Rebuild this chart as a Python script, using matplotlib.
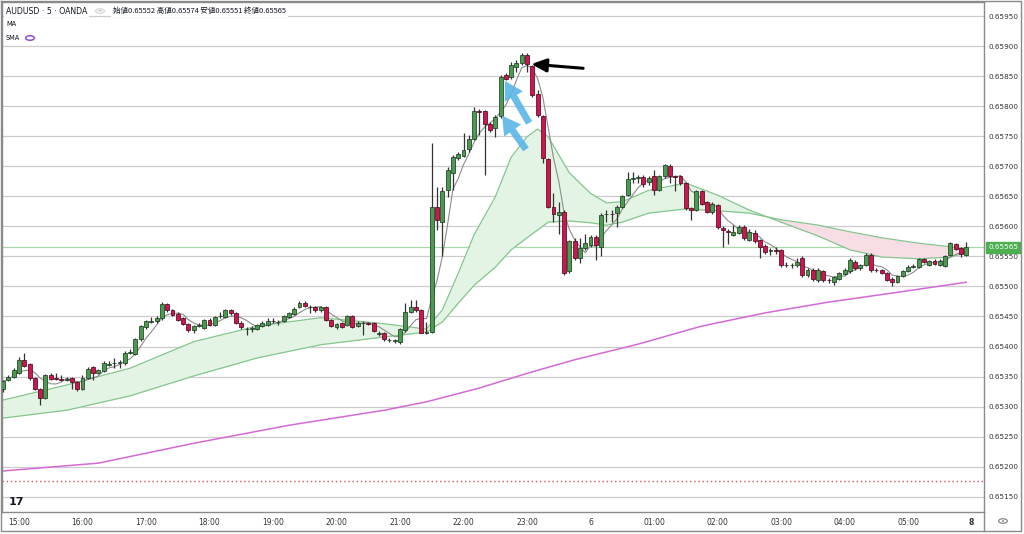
import matplotlib
matplotlib.use("Agg")
import matplotlib.pyplot as plt
import numpy as np
import pandas as pd
from matplotlib.patches import Rectangle
from matplotlib.lines import Line2D

# ---------------- data (AUDUSD 5 min, OANDA) ----------------
opens = [0.65329,0.65344,0.65350,0.65356,0.65378,0.65371,0.65347,0.65329,0.65315,0.65353,
         0.65347,0.65346,0.65345,0.65347,0.65341,0.65329,0.65348,0.65366,0.65356,0.65359,
         0.65370,0.65372,0.65373,0.65372,0.65390,0.65388,0.65412,0.65432,0.65441,0.65442,
         0.65447,0.65471,0.65461,0.65454,0.65447,0.65437,0.65427,0.65434,0.65431,0.65444,
         0.65436,0.65451,0.65449,0.65461,0.65455,0.65440,0.65429,0.65430,0.65429,0.65434,
         0.65436,0.65443,0.65441,0.65443,0.65449,0.65454,0.65466,0.65473,0.65466,0.65465,
         0.65460,0.65465,0.65444,0.65432,0.65439,0.65436,0.65450,0.65434,0.65439,0.65439,
         0.65439,0.65422,0.65422,0.65411,0.65410,0.65407,0.65428,0.65458,0.65466,0.65460,
         0.65423,0.65425,0.65632,0.65608,0.65661,0.65689,0.65714,0.65717,0.65728,0.65746,
         0.65792,0.65792,0.65771,0.65763,0.65784,0.65852,0.65848,0.65865,0.65871,0.65885,
         0.65866,0.65821,0.65784,0.65712,0.65633,0.65619,0.65624,0.65525,0.65575,0.65547,
         0.65564,0.65569,0.65583,0.65565,0.65620,0.65621,0.65622,0.65633,0.65652,0.65679,
         0.65681,0.65682,0.65673,0.65683,0.65661,0.65684,0.65700,0.65683,0.65684,0.65672,
         0.65630,0.65627,0.65659,0.65641,0.65624,0.65635,0.65597,0.65592,0.65586,0.65589,
         0.65599,0.65577,0.65589,0.65577,0.65567,0.65559,0.65560,0.65561,0.65536,0.65535,
         0.65536,0.65547,0.65519,0.65527,0.65511,0.65526,0.65511,0.65508,0.65513,0.65521,
         0.65525,0.65541,0.65530,0.65536,0.65552,0.65528,0.65527,0.65522,0.65513,0.65508,
         0.65517,0.65526,0.65533,0.65532,0.65545,0.65536,0.65543,0.65536,0.65534,0.65553,
         0.65571,0.65564,0.65552]
highs = [0.65345,0.65352,0.65364,0.65383,0.65389,0.65373,0.65349,0.65331,0.65355,0.65356,
         0.65356,0.65352,0.65349,0.65349,0.65342,0.65352,0.65366,0.65368,0.65363,0.65376,
         0.65376,0.65381,0.65378,0.65392,0.65396,0.65414,0.65436,0.65445,0.65449,0.65450,
         0.65474,0.65473,0.65463,0.65457,0.65449,0.65439,0.65436,0.65440,0.65446,0.65447,
         0.65451,0.65458,0.65463,0.65463,0.65457,0.65442,0.65433,0.65434,0.65438,0.65442,
         0.65447,0.65447,0.65445,0.65452,0.65458,0.65465,0.65475,0.65475,0.65469,0.65467,
         0.65468,0.65467,0.65446,0.65439,0.65441,0.65452,0.65452,0.65442,0.65442,0.65441,
         0.65441,0.65426,0.65424,0.65414,0.65413,0.65431,0.65473,0.65477,0.65477,0.65462,
         0.65441,0.65739,0.65666,0.65666,0.65699,0.65719,0.65724,0.65755,0.65752,0.65799,
         0.65796,0.65794,0.65773,0.65785,0.65852,0.65855,0.65874,0.65877,0.65888,0.65888,
         0.65868,0.65827,0.65786,0.65714,0.65655,0.65640,0.65627,0.65578,0.65580,0.65580,
         0.65588,0.65586,0.65586,0.65622,0.65627,0.65627,0.65635,0.65652,0.65691,0.65691,
         0.65685,0.65685,0.65683,0.65694,0.65685,0.65704,0.65703,0.65685,0.65686,0.65674,
         0.65632,0.65661,0.65661,0.65643,0.65640,0.65637,0.65601,0.65595,0.65602,0.65602,
         0.65602,0.65595,0.65594,0.65579,0.65570,0.65564,0.65566,0.65563,0.65540,0.65539,
         0.65547,0.65550,0.65530,0.65530,0.65531,0.65528,0.65514,0.65518,0.65524,0.65530,
         0.65548,0.65544,0.65538,0.65555,0.65555,0.65531,0.65529,0.65524,0.65515,0.65519,
         0.65528,0.65535,0.65537,0.65547,0.65547,0.65544,0.65545,0.65545,0.65553,0.65574,
         0.65573,0.65566,0.65574]
lows = [0.65325,0.65342,0.65348,0.65354,0.65366,0.65345,0.65327,0.65303,0.65313,0.65344,
        0.65344,0.65343,0.65343,0.65330,0.65326,0.65327,0.65346,0.65345,0.65354,0.65357,
        0.65368,0.65365,0.65365,0.65370,0.65387,0.65386,0.65410,0.65430,0.65439,0.65440,
        0.65445,0.65458,0.65451,0.65443,0.65436,0.65424,0.65422,0.65432,0.65429,0.65434,
        0.65434,0.65447,0.65447,0.65453,0.65438,0.65430,0.65420,0.65425,0.65427,0.65432,
        0.65434,0.65440,0.65436,0.65441,0.65447,0.65452,0.65464,0.65465,0.65456,0.65458,
        0.65458,0.65443,0.65432,0.65430,0.65431,0.65434,0.65431,0.65432,0.65419,0.65436,
        0.65424,0.65417,0.65410,0.65407,0.65406,0.65405,0.65425,0.65456,0.65458,0.65422,
        0.65421,0.65422,0.65594,0.65550,0.65649,0.65660,0.65710,0.65715,0.65724,0.65744,
        0.65752,0.65685,0.65757,0.65749,0.65781,0.65843,0.65845,0.65857,0.65868,0.65857,
        0.65815,0.65782,0.65705,0.65630,0.65608,0.65588,0.65519,0.65522,0.65544,0.65539,
        0.65561,0.65566,0.65544,0.65550,0.65608,0.65608,0.65599,0.65630,0.65650,0.65672,
        0.65672,0.65666,0.65669,0.65652,0.65658,0.65681,0.65672,0.65659,0.65668,0.65627,
        0.65611,0.65625,0.65636,0.65622,0.65620,0.65596,0.65566,0.65571,0.65584,0.65587,
        0.65578,0.65576,0.65572,0.65547,0.65554,0.65552,0.65554,0.65533,0.65532,0.65530,
        0.65533,0.65516,0.65516,0.65509,0.65508,0.65508,0.65505,0.65502,0.65511,0.65519,
        0.65522,0.65528,0.65528,0.65534,0.65524,0.65524,0.65520,0.65509,0.65501,0.65506,
        0.65515,0.65524,0.65530,0.65530,0.65539,0.65534,0.65536,0.65534,0.65532,0.65551,
        0.65560,0.65549,0.65551]
closes = [0.65342,0.65350,0.65361,0.65378,0.65368,0.65347,0.65329,0.65315,0.65353,0.65346,
          0.65346,0.65345,0.65345,0.65341,0.65329,0.65348,0.65363,0.65356,0.65361,0.65372,
          0.65370,0.65373,0.65374,0.65390,0.65391,0.65412,0.65434,0.65443,0.65442,0.65448,
          0.65471,0.65461,0.65453,0.65445,0.65438,0.65427,0.65434,0.65435,0.65444,0.65436,
          0.65449,0.65451,0.65461,0.65455,0.65440,0.65432,0.65429,0.65431,0.65436,0.65440,
          0.65443,0.65442,0.65441,0.65450,0.65456,0.65462,0.65473,0.65467,0.65466,0.65460,
          0.65466,0.65445,0.65434,0.65437,0.65433,0.65450,0.65433,0.65440,0.65439,0.65438,
          0.65426,0.65422,0.65412,0.65411,0.65410,0.65429,0.65458,0.65466,0.65460,0.65423,
          0.65424,0.65632,0.65611,0.65658,0.65694,0.65715,0.65720,0.65727,0.65746,0.65792,
          0.65791,0.65771,0.65760,0.65782,0.65849,0.65846,0.65868,0.65871,0.65885,0.65870,
          0.65819,0.65785,0.65713,0.65633,0.65620,0.65624,0.65522,0.65575,0.65547,0.65564,
          0.65572,0.65583,0.65569,0.65619,0.65621,0.65620,0.65633,0.65650,0.65679,0.65680,
          0.65681,0.65670,0.65680,0.65661,0.65683,0.65702,0.65683,0.65682,0.65672,0.65630,
          0.65628,0.65659,0.65638,0.65624,0.65638,0.65599,0.65594,0.65591,0.65591,0.65599,
          0.65580,0.65591,0.65575,0.65566,0.65557,0.65560,0.65559,0.65536,0.65535,0.65536,
          0.65541,0.65519,0.65527,0.65512,0.65528,0.65511,0.65510,0.65516,0.65522,0.65527,
          0.65544,0.65530,0.65536,0.65552,0.65527,0.65527,0.65522,0.65511,0.65508,0.65517,
          0.65526,0.65533,0.65534,0.65545,0.65541,0.65542,0.65538,0.65542,0.65551,0.65572,
          0.65563,0.65554,0.65565]

# time axis labels (candle index of each label)
tick_idx = [3, 15, 27, 39, 51, 63, 75, 87, 99, 111, 123, 135, 147, 159, 171, 183]
tick_labels = ["15:00", "16:00", "17:00", "18:00", "19:00", "20:00", "21:00", "22:00",
               "23:00", "6", "01:00", "02:00", "03:00", "04:00", "05:00", "8"]

# MA ribbon
ribbon_idx = [0, 12, 24, 36, 48, 60, 72, 80, 83, 86, 89, 93, 96, 99, 101, 103, 107, 111,
              114, 117, 122, 129, 135, 141, 147, 154, 160, 166, 173, 179, 182]
ribbon_fast = [0.65311, 0.65336, 0.65364, 0.65408, 0.65434, 0.65448, 0.65438, 0.65429,
               0.65461, 0.65522, 0.65586, 0.65649, 0.65715, 0.65749, 0.65762, 0.65749,
               0.65689, 0.65655, 0.65639, 0.65641, 0.65660, 0.65672, 0.65652, 0.65627,
               0.65607, 0.65584, 0.65561, 0.65549, 0.65546, 0.65549, 0.65556]
ribbon_slow = [0.65281, 0.65294, 0.65318, 0.65351, 0.65381, 0.65403, 0.65416, 0.65424,
               0.65441, 0.65472, 0.65502, 0.65532, 0.65561, 0.65581, 0.65594, 0.65607,
               0.65609, 0.65606, 0.65602, 0.65607, 0.65622, 0.65629, 0.65626, 0.65622,
               0.65611, 0.65602, 0.65591, 0.65581, 0.65572, 0.65566, 0.65562]

# long SMA (magenta)
sma_idx = [0, 18, 36, 54, 72, 80, 90, 100, 108, 120, 132, 144, 156, 168, 182]
sma_long = [0.65193, 0.65206, 0.65239, 0.65269, 0.65294, 0.65308, 0.65331, 0.65358,
            0.65378, 0.65404, 0.65434, 0.65456, 0.65474, 0.65489, 0.65507]

last_price = 0.65565
dotted_level = 0.65176
price_ticks = [0.65150, 0.65200, 0.65250, 0.65300, 0.65350, 0.65400, 0.65450, 0.65500,
               0.65550, 0.65600, 0.65650, 0.65700, 0.65750, 0.65800, 0.65850, 0.65900,
               0.65950]

# annotation arrows (tail index, tail price, tip index, tip price)
black_arrow = (109.6, 0.65863, 99.8, 0.65870)
blue_arrows = [(99.4, 0.65772, 94.8, 0.65842), (98.8, 0.65728, 94.3, 0.65784)]

# ---------------- figure ----------------
W, H = 1024, 534
fig = plt.figure(figsize=(W / 100, H / 100), dpi=100)
fig.patch.set_facecolor("white")
ax = fig.add_axes([2 / W, 22 / H, 982 / W, 510 / H])
ax.set_facecolor("white")

n = len(closes)
x = np.arange(n)
o = np.array(opens); c = np.array(closes); h = np.array(highs); l = np.array(lows)
up = c >= o

green_body = "#4a9a50"
green_edge = "#1f3f24"
red_body = "#c8184f"
red_edge = "#55091f"
wick_col = "#333333"

# grid
for p in price_ticks:
    ax.axhline(p, color="#cdcdcd", lw=0.9, zorder=0)
ax.axhline(last_price, color="#a8d8a8", lw=0.9, zorder=1)
ax.axhline(dotted_level, color="#e0505a", lw=1.0, ls=(0, (1, 2)), zorder=1)

# long SMA
ax.plot(sma_idx, sma_long, color="#d36ad6", lw=1.1, zorder=2)

# ribbon
rf = np.array(ribbon_fast); rs = np.array(ribbon_slow)
ax.fill_between(ribbon_idx, rf, rs, where=rf >= rs, interpolate=True,
                color="#e4f4e4", lw=0, zorder=1)
ax.fill_between(ribbon_idx, rf, rs, where=rf < rs, interpolate=True,
                color="#f9dde5", lw=0, zorder=1)
ax.plot(ribbon_idx, ribbon_fast, color="#84c68d", lw=0.9, zorder=2)
ax.plot(ribbon_idx, ribbon_slow, color="#84c68d", lw=0.9, zorder=2)

# short MA
ma_short = pd.Series(closes).rolling(5, min_periods=1).mean()
ax.plot(x, ma_short, color="#8c8c8c", lw=0.8, zorder=3)

# candles
ax.vlines(x, l, h, color=wick_col, lw=0.9, zorder=4)
bw = 0.74
for i in range(n):
    lo_b = min(o[i], c[i]); hb = max(abs(c[i] - o[i]), 0.000012)
    if abs(c[i] - o[i]) < 0.000012:
        lo_b = (o[i] + c[i]) / 2 - 0.000006
    ax.add_patch(Rectangle((x[i] - bw / 2, lo_b), bw, hb,
                           facecolor=green_body if up[i] else red_body,
                           edgecolor=green_edge if up[i] else red_edge,
                           lw=0.55, zorder=5))

# arrows
tx, ty, hx, hy = black_arrow
ax.annotate("", xy=(hx, hy), xytext=(tx, ty),
            arrowprops=dict(arrowstyle="-|>,head_length=0.9,head_width=0.4",
                            color="black", lw=2.2, shrinkA=0, shrinkB=0), zorder=8)
for (tx, ty, hx, hy) in blue_arrows:
    ax.annotate("", xy=(hx, hy), xytext=(tx, ty),
                arrowprops=dict(arrowstyle="simple,head_length=1.3,head_width=1.5,tail_width=0.5",
                                color="#5ab6e6", alpha=0.9, lw=0, shrinkA=0, shrinkB=0),
                zorder=8)

# axes ranges
ax.set_xlim(-0.21, 185.35)
ax.set_ylim(0.651247, 0.659733)

ax.yaxis.tick_right()
ax.set_yticks(price_ticks)
ax.set_yticklabels([f"{p:.5f}" for p in price_ticks])
ax.tick_params(axis="y", length=0, pad=3, labelsize=5.2, labelcolor="#333333")
ax.set_xticks(tick_idx)
ax.set_xticklabels(tick_labels)
ax.tick_params(axis="x", length=0, pad=4, labelsize=5.5, labelcolor="#333333")
for lab in ax.get_xticklabels():
    if lab.get_text() == "8":
        lab.set_fontweight("bold")
for sp in ax.spines.values():
    sp.set_color("#8a8a8a")
    sp.set_linewidth(1.0)

# price label box
ax.annotate(f"{last_price:.5f}", xy=(1.0, last_price), xycoords=("axes fraction", "data"),
            xytext=(3, 0), textcoords="offset points", ha="left", va="center",
            fontsize=5.2, color="white",
            bbox=dict(boxstyle="square,pad=0.3", fc="#4caf50", ec="#4caf50"), zorder=10,
            annotation_clip=False)

# outer frame & separators (figure pixels)
def fx(px): return px / W
def fy(py): return 1 - py / H
frame_col = "#8a8a8a"
fig.add_artist(Line2D([fx(1), fx(1021), fx(1021), fx(1), fx(1)],
                      [fy(1), fy(1), fy(531), fy(531), fy(1)], color=frame_col, lw=1.0))
fig.add_artist(Line2D([fx(984), fx(984)], [fy(512), fy(531)], color=frame_col, lw=1.0))

# header legend
fig.text(fx(6), fy(11), "AUDUSD · 5 · OANDA", fontsize=5.6, color="#131722",
         va="center", ha="left",
         bbox=dict(fc="white", ec="none", pad=1.2))
fig.add_artist(plt.Circle((fx(100), fy(11)), 0.0045, transform=fig.transFigure,
                          fc="#eeeeee", ec="#cccccc", lw=0.5))
fig.text(fx(100), fy(11), "–", fontsize=4, color="#555555", ha="center", va="center")
fig.text(fx(113), fy(11), "始値0.65552 高値0.65574 安値0.65551 終値0.65565",
         fontsize=5.4, color="#131722", va="center", ha="left",
         family=["Noto Sans CJK JP", "DejaVu Sans"],
         bbox=dict(fc="white", ec="none", pad=1.2))
fig.add_artist(Rectangle((fx(3), fy(17)), fx(290) - fx(3), fy(5) - fy(17),
                         transform=fig.transFigure, fc="white", ec="none", zorder=-1))
fig.text(fx(6), fy(24), "MA", fontsize=4.8, color="#131722", va="center", ha="left")
fig.text(fx(6), fy(38), "SMA", fontsize=4.8, color="#131722", va="center", ha="left")
fig.add_artist(plt.Circle((fx(30), fy(38)), 0.0042, transform=fig.transFigure,
                          fc="white", ec="#9b59d0", lw=1.2))

# TradingView logo text
fig.text(fx(9), fy(502), "17", fontsize=8, fontweight="bold", color="#131722",
         va="center", ha="left")
# settings icon
fig.add_artist(plt.Circle((fx(1003), fy(521)), 0.0042, transform=fig.transFigure,
                          fc="white", ec="#666666", lw=0.7))
fig.add_artist(plt.Circle((fx(1003), fy(521)), 0.0012, transform=fig.transFigure,
                          fc="#666666", ec="none"))

fig.savefig("out.png", dpi=100, facecolor="white")
